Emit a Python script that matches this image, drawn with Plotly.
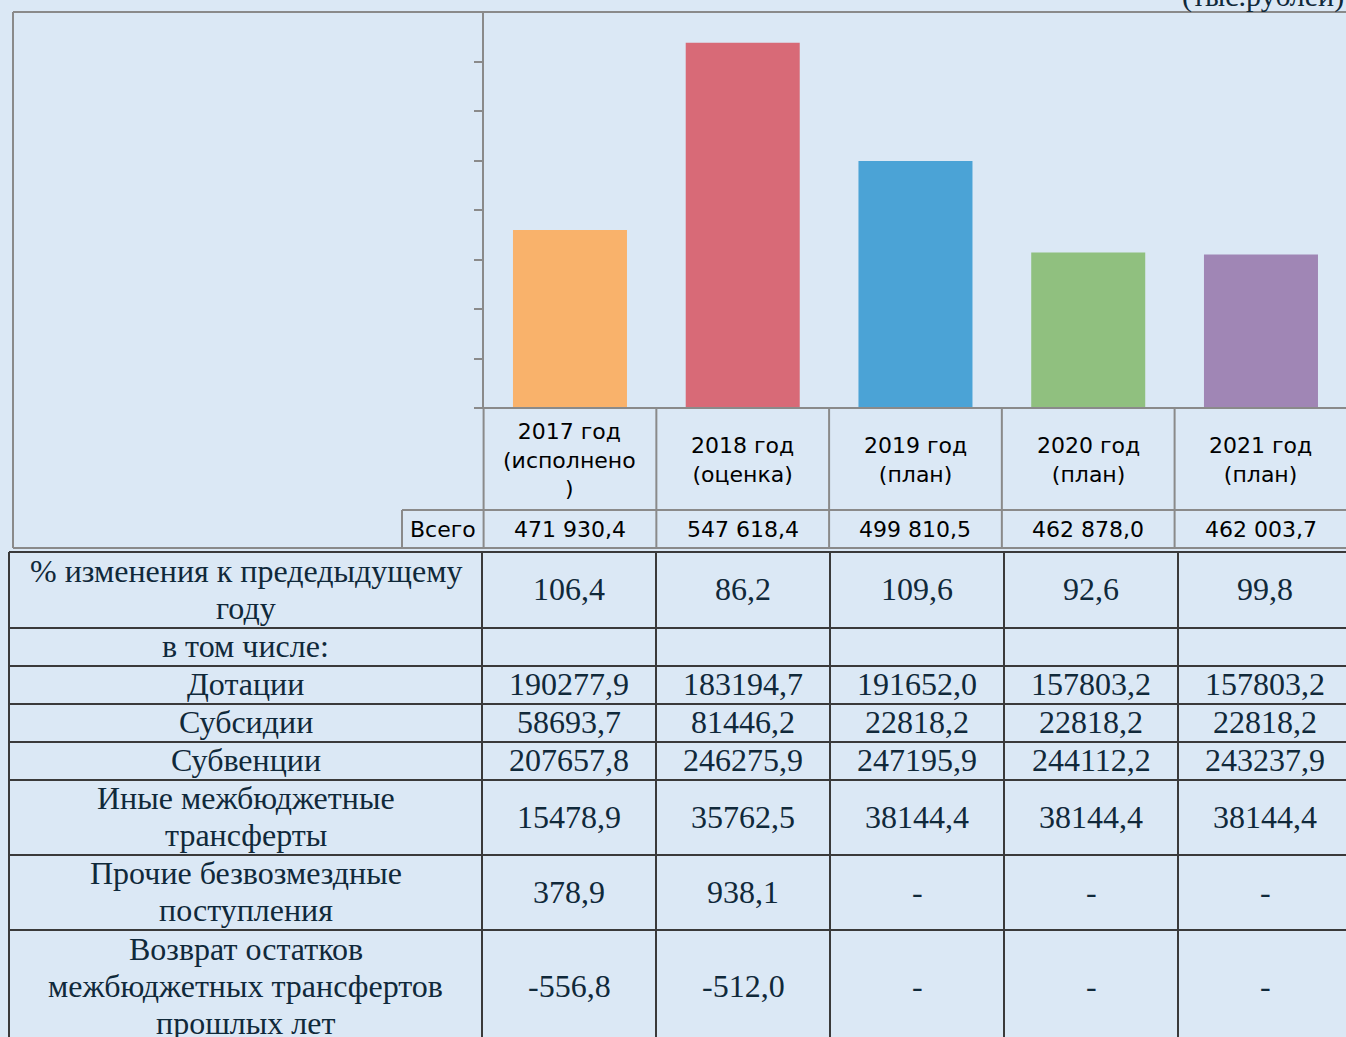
import plotly.graph_objects as go

W, H = 1346, 1037

# ---------------- data ----------------
categories = ["2017 год<br>(исполнено<br>)", "2018 год<br>(оценка)", "2019 год<br>(план)",
              "2020 год<br>(план)", "2021 год<br>(план)"]
totals = [471930.4, 547618.4, 499810.5, 462878.0, 462003.7]
bar_colors = ["#F9B26B", "#D86A77", "#4BA3D6", "#90C07F", "#A086B5"]

row_labels = [
    "% изменения к предедыдущему<br>году",
    "в том числе:",
    "Дотации",
    "Субсидии",
    "Субвенции",
    "Иные межбюджетные<br>трансферты",
    "Прочие безвозмездные<br>поступления",
    "Возврат остатков<br>межбюджетных трансфертов<br>прошлых лет",
]
pct_change = [106.4, 86.2, 109.6, 92.6, 99.8]
subtotal_blank = [None, None, None, None, None]
dotacii = [190277.9, 183194.7, 191652.0, 157803.2, 157803.2]
subsidii = [58693.7, 81446.2, 22818.2, 22818.2, 22818.2]
subvencii = [207657.8, 246275.9, 247195.9, 244112.2, 243237.9]
inye_mbt = [15478.9, 35762.5, 38144.4, 38144.4, 38144.4]
prochie = [378.9, 938.1, None, None, None]
vozvrat = [-556.8, -512.0, None, None, None]
row_values = [pct_change, subtotal_blank, dotacii, subsidii, subvencii, inye_mbt, prochie, vozvrat]
unit_label = "(тыс.рублей)"
total_label = "Всего"

# ---------------- layout geometry (pixels) ----------------
def px(x):
    return x / W

def py(y):
    return 1 - y / H

PLOT_L, PLOT_T, PLOT_B = 483.6, 12, 408
CAT_W = 172.75
x_right = (W - PLOT_L) / CAT_W - 0.5

grid_up = "#8a8a8a"
grid_lo = "#3a3a3a"
bg = "#dbe8f5"
txt_lo = "#10293a"
SERIF = dict(family="Liberation Serif", size=32, color=txt_lo)
SANS = dict(family="DejaVu Sans", size=22, color="#000")
LINE_H = 37

def fmt_total(v):
    return f"{v:,.1f}".replace(",", " ").replace(".", ",")

def fmt_cell(v):
    if v is None:
        return ""
    return f"{v:.1f}".replace(".", ",")

fig = go.Figure()
fig.add_trace(go.Bar(
    x=list(range(len(totals))), y=totals, width=0.66,
    marker=dict(color=bar_colors, line=dict(width=0)),
    showlegend=False, hoverinfo="skip",
))

shapes = []
annotations = []

def hline(y, x0, x1, color, w=2):
    shapes.append(dict(type="line", xref="paper", yref="paper", x0=px(x0), x1=px(x1),
                       y0=py(y), y1=py(y), line=dict(color=color, width=w), layer="above"))

def vline(x, y0, y1, color, w=2):
    shapes.append(dict(type="line", xref="paper", yref="paper", x0=px(x), x1=px(x),
                       y0=py(y0), y1=py(y1), line=dict(color=color, width=w), layer="above"))

def text_at(x, y, s, font):
    annotations.append(dict(x=px(x), y=py(y), xref="paper", yref="paper", text=s,
                            showarrow=False, font=font, xanchor="center", yanchor="middle"))

def multiline(x, yc, s, font):
    parts = s.split("<br>")
    n = len(parts)
    for k, p in enumerate(parts):
        text_at(x, yc + (k - (n - 1) / 2) * LINE_H, p, font)

# upper frame
hline(12, 13, W + 5, grid_up)
vline(13, 12, 548, grid_up)
hline(548, 13, W + 5, grid_up)
hline(PLOT_B, 476, W + 5, grid_up)
hline(510, 402, W + 5, grid_up)
vline(402, 510, 548, grid_up)
for i in range(len(totals)):
    vline(PLOT_L + i * CAT_W, PLOT_B, 548, grid_up)

# category labels and totals
for i, (c, t) in enumerate(zip(categories, totals)):
    xc = PLOT_L + (i + 0.5) * CAT_W
    text_at(xc, 460, c, SANS)
    text_at(xc, 529, fmt_total(t), SANS)
text_at(443, 529, total_label, SANS)

annotations.append(dict(x=px(1346), y=py(-4), xref="paper", yref="paper", text=unit_label,
                        showarrow=False, font=dict(family="Liberation Serif", size=30, color=txt_lo),
                        xanchor="right", yanchor="middle"))

# lower table
col_edges = [9, 482, 656, 830, 1004, 1178, 1352]
row_edges = [552, 628, 666, 704, 742, 780, 855, 930, 1044]
for y in row_edges[:-1]:
    hline(y, col_edges[0], W + 5, grid_lo)
for x in col_edges[:-1]:
    vline(x, row_edges[0], H + 5, grid_lo)

for r, (lab, vals) in enumerate(zip(row_labels, row_values)):
    yc = (row_edges[r] + row_edges[r + 1]) / 2 - 1
    multiline((col_edges[0] + col_edges[1]) / 2, yc, lab, SERIF)
    for j, v in enumerate(vals):
        s = fmt_cell(v)
        if v is None and r >= 6:
            s = "-"
        if not s:
            continue
        text_at((col_edges[j + 1] + col_edges[j + 2]) / 2, yc, s, SERIF)

fig.update_layout(
    width=W, height=H,
    margin=dict(l=0, r=0, t=0, b=0),
    paper_bgcolor=bg, plot_bgcolor="rgba(0,0,0,0)",
    xaxis=dict(domain=[px(PLOT_L), 1], range=[-0.5, x_right], showticklabels=False,
               showgrid=False, zeroline=False, showline=False, ticks=""),
    yaxis=dict(domain=[py(PLOT_B), py(PLOT_T)], range=[400000, 560000], dtick=20000, tick0=400000,
               showticklabels=False, showgrid=False, zeroline=False, showline=True,
               linecolor=grid_up, linewidth=2, ticks="outside", ticklen=8, tickwidth=2,
               tickcolor=grid_up),
    shapes=shapes,
    annotations=annotations,
    bargap=0.34,
)

fig.write_html("out.html", config={"displayModeBar": False},
               post_script="document.body.style.margin='0px';")
